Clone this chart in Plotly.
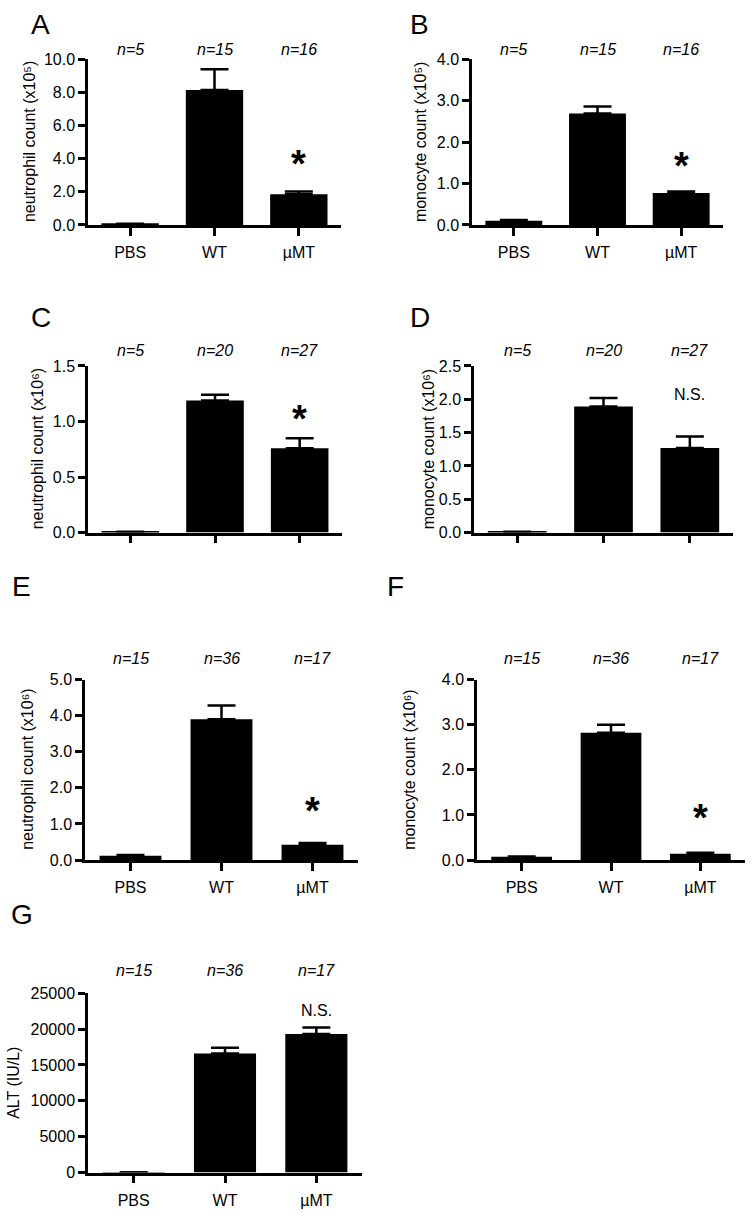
import plotly.graph_objects as go

W, H = 755, 1225
FONT = "Arial, Liberation Sans, Helvetica, sans-serif"

categories = ["PBS", "WT", "µMT"]

# Panel A: neutrophil count (x10^5)
neut_A = [0.05, 8.15, 1.85]
neut_A_err = [0.02, 1.25, 0.17]
# Panel B: monocyte count (x10^5)
mono_B = [0.10, 2.69, 0.77]
mono_B_err = [0.02, 0.17, 0.04]
# Panel C: neutrophil count (x10^6)
neut_C = [0.006, 1.19, 0.76]
neut_C_err = [0.002, 0.05, 0.09]
# Panel D: monocyte count (x10^6)
mono_D = [0.01, 1.89, 1.27]
mono_D_err = [0.003, 0.13, 0.17]
# Panel E: neutrophil count (x10^6)
neut_E = [0.12, 3.90, 0.42]
neut_E_err = [0.02, 0.38, 0.05]
# Panel F: monocyte count (x10^6)
mono_F = [0.07, 2.82, 0.14]
mono_F_err = [0.01, 0.18, 0.02]
# Panel G: ALT (IU/L)
alt_G = [40, 16600, 19300]
alt_G_err = [0, 800, 900]

n_AB = ["n=5", "n=15", "n=16"]
n_CD = ["n=5", "n=20", "n=27"]
n_EFG = ["n=15", "n=36", "n=17"]

sig_labels = ["*", "*", "*", "N.S.", "*", "*", "N.S."]
sig_levels = [4.0, 1.55, 1.07, 2.07, 1.5, 1.05, 22600]

panels = [
    dict(letter="A", v=neut_A, e=neut_A_err, yl="neutrophil count (x10⁵)", ymax=10, dt=2, fmt=".1f",
         n=n_AB, xl=True, dom=(88, 341, 52, 220), tx=29, lp=(40, 17), ny=42),
    dict(letter="B", v=mono_B, e=mono_B_err, yl="monocyte count (x10⁵)", ymax=4, dt=1, fmt=".1f",
         n=n_AB, xl=True, dom=(472, 723, 52, 220), tx=420, lp=(419, 17), ny=42),
    dict(letter="C", v=neut_C, e=neut_C_err, yl="neutrophil count (x10⁶)", ymax=1.5, dt=0.5, fmt=".1f",
         n=n_CD, xl=False, dom=(88, 342, 363, 532), tx=37, lp=(41, 314), ny=347),
    dict(letter="D", v=mono_D, e=mono_D_err, yl="monocyte count (x10⁶)", ymax=2.5, dt=0.5, fmt=".1f",
         n=n_CD, xl=False, dom=(474, 733, 363, 532), tx=428, lp=(420, 314), ny=347),
    dict(letter="E", v=neut_E, e=neut_E_err, yl="neutrophil count (x10⁶)", ymax=5, dt=1, fmt=".1f",
         n=n_EFG, xl=True, dom=(85, 358, 681, 864), tx=28, lp=(21, 587), ny=660),
    dict(letter="F", v=mono_F, e=mono_F_err, yl="monocyte count (x10⁶)", ymax=4, dt=1, fmt=".1f",
         n=n_EFG, xl=True, dom=(477, 745, 681, 864), tx=410, lp=(396, 587), ny=660),
    dict(letter="G", v=alt_G, e=alt_G_err, yl="ALT (IU/L)", ymax=25000, dt=5000, fmt="d",
         n=n_EFG, xl=True, dom=(88, 362, 999, 1181), tx=14, lp=(22, 919), ny=976),
]

fig = go.Figure()
annotations = []
layout = {}

for i, p in enumerate(panels):
    k = i + 1
    xa = "x" if k == 1 else f"x{k}"
    ya = "y" if k == 1 else f"y{k}"
    xkey = "xaxis" if k == 1 else f"xaxis{k}"
    ykey = "yaxis" if k == 1 else f"yaxis{k}"
    x0, x1, y0, y1 = p["dom"]
    fig.add_trace(go.Bar(
        x=categories, y=p["v"], xaxis=xa, yaxis=ya, width=0.68,
        marker=dict(color="black", line=dict(width=0)),
        error_y=dict(type="data", array=p["e"], arrayminus=[0, 0, 0], symmetric=False,
                     color="black", thickness=2.5, width=14),
        showlegend=False, hoverinfo="skip",
    ))
    layout[xkey] = dict(
        domain=[x0 / W, x1 / W], anchor=ya, type="category", range=[-0.5, 2.5],
        showline=True, linecolor="black", linewidth=2.5, ticks="outside", ticklen=8,
        tickwidth=2.5, tickcolor="black", showgrid=False, zeroline=False,
        showticklabels=p["xl"], tickfont=dict(family=FONT, size=16, color="black"),
        ticklabelstandoff=3, fixedrange=True,
    )
    layout[ykey] = dict(
        domain=[1 - y1 / H, 1 - y0 / H], anchor=xa, range=[0, p["ymax"]], dtick=p["dt"],
        tick0=0, tickformat=p["fmt"], showline=True, linecolor="black", linewidth=2.5,
        ticks="outside", ticklen=7, tickwidth=2.5, tickcolor="black", showgrid=False,
        zeroline=False, tickfont=dict(family=FONT, size=16, color="black"), fixedrange=True,
    )
    annotations.append(dict(
        x=p["tx"] / W, y=1 - (y0 + y1) / 2 / H, xref="paper", yref="paper", text=p["yl"],
        textangle=-90, showarrow=False, xanchor="center", yanchor="middle",
        font=dict(family=FONT, size=16, color="black"),
    ))
    annotations.append(dict(
        x=p["lp"][0] / W, y=1 - p["lp"][1] / H, xref="paper", yref="paper", text=p["letter"],
        showarrow=False, xanchor="center", yanchor="middle",
        font=dict(family=FONT, size=28, color="black"),
    ))
    for c, t in zip(categories, p["n"]):
        annotations.append(dict(
            x=c, y=1 - p["ny"] / H, xref=xa, yref="paper", text=t,
            showarrow=False, xanchor="center", yanchor="middle",
            font=dict(family=FONT, size=16, color="black", style="italic"),
        ))
    s = sig_labels[i]
    if s == "*":
        annotations.append(dict(
            x=categories[2], y=sig_levels[i], xref=xa, yref=ya, text=s,
            showarrow=False, xanchor="center", yanchor="middle", yshift=-5,
            font=dict(family=FONT, size=38, color="black", weight="bold"),
        ))
    else:
        annotations.append(dict(
            x=categories[2], y=sig_levels[i], xref=xa, yref=ya, text=s,
            showarrow=False, xanchor="center", yanchor="middle",
            font=dict(family=FONT, size=16, color="black"),
        ))

fig.update_layout(
    width=W, height=H, autosize=False,
    margin=dict(l=0, r=0, t=0, b=0),
    paper_bgcolor="white", plot_bgcolor="white",
    annotations=annotations, bargap=0.32,
    font=dict(family=FONT, color="black"),
    **layout,
)

fig.write_html(
    "out.html",
    config={"displayModeBar": False, "responsive": False},
    post_script="document.body.style.margin='0';document.body.style.padding='0';",
)
